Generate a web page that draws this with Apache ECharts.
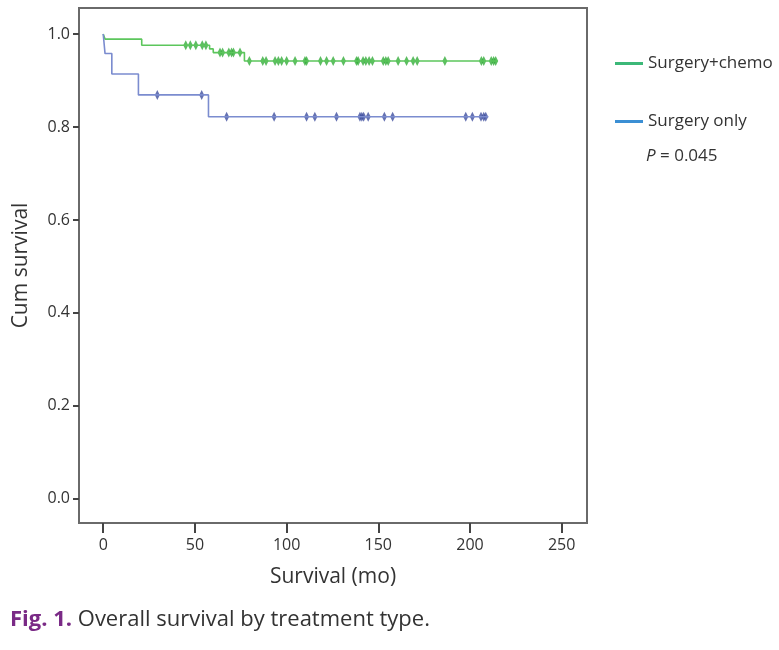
<!DOCTYPE html>
<html>
<head>
<meta charset="utf-8">
<script src="https://cdn.jsdelivr.net/npm/echarts@6/dist/echarts.min.js"></script>
<style>
  html, body { margin: 0; padding: 0; background: #fff; }
  #chart { width: 779px; height: 650px; }
</style>
</head>
<body>
<div id="chart"></div>
<script>
// Kaplan-Meier steps
const chemoTimes = [0, 1, 21, 58, 60, 77, 215];
const chemoSurv = [1.0, 0.989, 0.976, 0.968, 0.96, 0.942, 0.942];
const chemoCensored = [45, 47.5, 50.5, 54, 56, 63.7, 65.1, 68.5, 70, 71, 74.6,
  79.7, 87, 88.8, 93.7, 95.5, 97.3, 100, 104.6, 110, 110.9, 118.5, 121.8, 125.4,
  131, 138.1, 139, 141.7, 143.2, 145, 146.8, 152.7, 154.1, 155.4, 160.8, 165.4,
  169, 171.2, 186.3, 206.2, 207.5, 211.6, 212.9, 214];

const onlyTimes = [0, 1, 4.7, 19.2, 57.4, 210];
const onlySurv = [1.0, 0.958, 0.914, 0.869, 0.822, 0.822];
const onlyCensored = [29.5, 53.7, 67.3, 93.2, 110.9, 115.4, 127.2, 140, 141, 142,
  144.5, 153.3, 157.8, 197.7, 201.3, 206, 207.5, 208.6];

const xTicks = [0, 50, 100, 150, 200, 250];
const yTicks = [0, 0.2, 0.4, 0.6, 0.8, 1.0];
const seriesNames = ["Surgery+chemo", "Surgery only"];

function survAt(times, surv, t) {
  let s = surv[0];
  for (let i = 0; i < times.length; i++) {
    if (times[i] <= t) s = surv[i];
  }
  return s;
}

const chemoLine = chemoTimes.map((t, i) => [t, chemoSurv[i]]);
const onlyLine = onlyTimes.map((t, i) => [t, onlySurv[i]]);
const chemoMarks = chemoCensored.map((t) => [t, survAt(chemoTimes, chemoSurv, t)]);
const onlyMarks = onlyCensored.map((t) => [t, survAt(onlyTimes, onlySurv, t)]);

const font = "'Open Sans', 'Noto Sans', sans-serif";
const frame = "#6a6a6a";

const chart = echarts.init(document.getElementById("chart"));
chart.setOption({
  backgroundColor: "#fff",
  animation: false,
  textStyle: { fontFamily: font },
  grid: {
    left: 79,
    top: 8,
    width: 508,
    height: 515,
    show: true,
    borderColor: frame,
    borderWidth: 2,
  },
  legend: {
    orient: "vertical",
    left: 610,
    top: 50,
    itemGap: 41,
    itemWidth: 28,
    itemHeight: 3,
    icon: "rect",
    textStyle: { fontSize: 17, color: "#333", fontFamily: font },
    data: [
      { name: seriesNames[0], itemStyle: { color: "#3cb878" } },
      { name: seriesNames[1], itemStyle: { color: "#3b8fd4" } },
    ],
  },
  graphic: [
    {
      type: "text",
      left: 646,
      top: 148,
      style: {
        text: "{i|P} = 0.045",
        font: "17px " + font,
        fill: "#333",
        rich: { i: { fontStyle: "italic", fontSize: 17, fontFamily: font } },
      },
    },
    {
      type: "text",
      left: 10,
      top: 609,
      style: {
        text: "{b|Fig. 1.} Overall survival by treatment type.",
        font: "22px " + font,
        fill: "#333",
        rich: {
          b: { fontWeight: "bold", fontSize: 22, fill: "#7a2a86", color: "#7a2a86", fontFamily: font },
        },
      },
    },
  ],
  xAxis: {
    type: "value",
    position: "bottom",
    min: -13.2,
    max: 263.8,
    name: "Survival (mo)",
    nameLocation: "middle",
    nameGap: 44,
    nameTextStyle: { fontSize: 21, color: "#333" },
    axisLine: { show: true, onZero: false, lineStyle: { color: frame, width: 2 } },
    splitLine: { show: false },
    axisTick: {
      show: true,
      inside: false,
      customValues: xTicks,
      length: 10,
      lineStyle: { color: "#444", width: 2 },
    },
    axisLabel: {
      customValues: xTicks,
      fontSize: 16,
      color: "#333",
      margin: 14,
    },
  },
  yAxis: {
    type: "value",
    position: "left",
    min: -0.052,
    max: 1.056,
    name: "Cum survival",
    nameLocation: "middle",
    nameGap: 47,
    nameTextStyle: { fontSize: 21, color: "#333" },
    axisLine: { show: true, onZero: false, lineStyle: { color: frame, width: 2 } },
    splitLine: { show: false },
    axisTick: {
      show: true,
      inside: false,
      customValues: yTicks,
      length: 6,
      lineStyle: { color: "#444", width: 2 },
    },
    axisLabel: {
      customValues: yTicks,
      fontSize: 16,
      color: "#333",
      margin: 9,
      formatter: (v) => v.toFixed(1),
    },
  },
  series: [
    {
      name: seriesNames[0],
      type: "line",
      step: "end",
      data: chemoLine,
      showSymbol: false,
      color: "#3cb878",
      lineStyle: { color: "#5cc65c", width: 1.6 },
    },
    {
      name: seriesNames[1],
      type: "line",
      step: "end",
      data: onlyLine,
      showSymbol: false,
      color: "#3b8fd4",
      lineStyle: { color: "#7b8ccf", width: 1.6 },
    },
    {
      name: "chemo censored",
      type: "scatter",
      data: chemoMarks,
      symbol: "diamond",
      symbolSize: [5, 10],
      itemStyle: { color: "#33ad3a" },
    },
    {
      name: "only censored",
      type: "scatter",
      data: onlyMarks,
      symbol: "diamond",
      symbolSize: [5, 10],
      itemStyle: { color: "#3f4f9f" },
    },
  ],
});
</script>
</body>
</html>
